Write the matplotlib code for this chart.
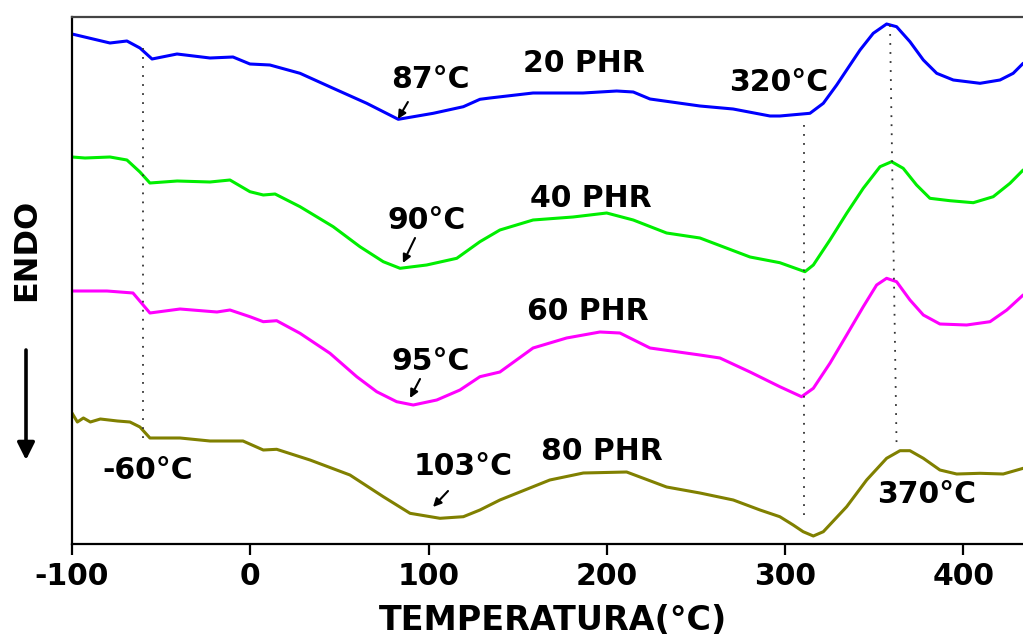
import matplotlib
matplotlib.use("Agg")
import matplotlib.pyplot as plt
from matplotlib.patches import FancyArrowPatch

# DSC thermograms (heat flow, arbitrary units) for four filler loadings
t_20 = [-100, -78.7, -69.2, -61.9, -55.1, -41.1, -22.6, -9.7, -0.2, 11, 27.9, 46.5, 65.3,
        83, 102.6, 119.5, 128.8, 134.4, 158.6, 186.6, 205.5, 214.8, 224.2, 252.2, 270.8,
        291.5, 297, 313.9, 321.4, 328.9, 334.5, 342, 349.4, 356.9, 362.5, 370, 377.5,
        385, 394.3, 409.3, 420.5, 427.9, 433.5]
hf_20 = [510, 501, 503, 496, 485, 490, 486, 487, 480, 479, 470.7, 455.7, 440.7,
         424.7, 430.7, 437.3, 444.7, 446, 451, 451, 453, 452, 445, 438, 435,
         428, 428, 430.7, 440.7, 459, 474, 494, 510.7, 520, 517.3, 502.3, 484,
         470.7, 464, 460.7, 464, 470.7, 480.7]

t_40 = [-100, -92.7, -78.7, -69.2, -61.9, -56.3, -41, -22.6, -11.4, -0.2, 7.3, 13.9, 27.9,
        46.5, 61.5, 74.6, 84, 98.9, 115.8, 128.8, 140, 158.6, 181, 199.9, 214.8, 233.5,
        252.2, 280.3, 297, 311.1, 315.8, 325.1, 334.5, 343.8, 353.2, 359.7, 366.2, 373.7,
        381.2, 392.4, 405.5, 416.7, 426.1, 433.5]
hf_40 = [387, 386, 387, 384, 372, 361, 363, 362, 364, 352.3, 349, 350, 337.3,
         317.3, 297.3, 282.3, 275.7, 279, 285.7, 302.3, 314, 324, 327, 331, 324, 311,
         306, 287, 281.3, 272.3, 279, 304, 330.7, 355.7, 377.3, 382.3, 375.7, 359,
         345.7, 343.3, 341.3, 347.3, 360.7, 374]

t_60 = [-100, -80.4, -65.8, -56.3, -39.4, -18.7, -11.4, -0.2, 7.3, 14.8, 27.9, 44.7, 59.7,
        70.9, 82.1, 91.4, 104.6, 117.6, 128.8, 140, 158.6, 177.4, 196.1, 207.3, 224.2,
        252.2, 263.4, 280.3, 297, 309.2, 315.8, 325.1, 334.5, 343.8, 351.3, 356.9, 362.5,
        370, 377.5, 386.8, 401.8, 414.9, 424.3, 433.5]
hf_60 = [253, 253, 251, 231, 235, 232, 234, 227.3, 222.3, 223.3, 210.7, 190.7, 167.3,
         152.3, 142.3, 139, 144, 154, 167.3, 172, 196, 206, 212, 211, 196,
         189, 186, 172, 157.3, 147.3, 155.7, 180.7, 209, 237.3, 259, 265.7, 262.3,
         244, 229, 220, 219, 222.3, 234, 249]

t_80 = [-100, -97, -93.6, -89.7, -84.1, -74.5, -67.5, -61.9, -56.3, -39.4, -22.6, -4.1,
        7.3, 14.8, 33.5, 55.9, 74.6, 89.6, 106.4, 119.5, 128.8, 140, 168, 186.8, 211.1,
        233.5, 252.2, 270.9, 285.9, 297, 304.5, 310.1, 315.8, 321.4, 334.5, 345.7, 356.9,
        364.4, 370, 377.5, 386.8, 396.2, 409.3, 422.3, 433.5]
hf_80 = [131, 122, 126, 122, 125, 123, 122, 117, 106, 106, 103, 103,
         94, 94.7, 84, 69, 47.3, 30.7, 25.7, 27.3, 34, 44, 64, 71, 72,
         57, 51, 44, 34, 27.3, 19, 12.3, 8, 12.3, 37.3, 64, 85.7,
         93.3, 93.3, 85.7, 74, 70, 70.7, 70, 75.7]

series = [
    (t_20, hf_20, "#0000ff"),
    (t_40, hf_40, "#00ee00"),
    (t_60, hf_60, "#ff00ff"),
    (t_80, hf_80, "#808000"),
]

# curve labels: (text, x, baseline y)
labels = [
    ("20 PHR", 187.2, 472), ("87°C", 100.8, 455.5), ("320°C", 296.5, 453),
    ("40 PHR", 191.1, 337), ("90°C", 99.1, 315),
    ("60 PHR", 189.4, 224), ("95°C", 101.3, 174),
    ("80 PHR", 197.3, 84), ("103°C", 119.3, 69),
    ("-60°C", -57.4, 65), ("370°C", 379.5, 41),
]

# small arrows pointing at the peak minima: (x_from, y_from, x_to, y_to)
peak_arrows = [
    (88.4, 442, 82.8, 425),
    (92.4, 306, 85.6, 281),
    (95.2, 165, 89.6, 146),
    (110.9, 53, 102.5, 37),
]

# dotted guide lines: (x0, y0, x1, y1)
guides = [
    (-60, 496, -60, 102),
    (310.7, 419, 310.7, 26),
    (358.8, 519, 362.5, 97),
]

xticks = [-100, 0, 100, 200, 300, 400]

plt.rcParams["font.family"] = "DejaVu Sans"
plt.rcParams["font.weight"] = "bold"

W, H = 1023, 637
fig = plt.figure(figsize=(W / 100, H / 100), dpi=100)
ax = fig.add_axes([72 / W, 1 - 544 / H, (W - 72) / W, (544 - 17) / H])

for t, hf, c in series:
    ax.plot(t, hf, color=c, lw=2.2, solid_joinstyle="round", solid_capstyle="round")

for x0, y0, x1, y1 in guides:
    ax.plot([x0, x1], [y0, y1], color="#333333", lw=1.3, linestyle=(0, (1, 4)))

for txt, x, y in labels:
    ax.text(x, y, txt, fontsize=21.5, fontweight="bold", ha="center", va="baseline")

for x0, y0, x1, y1 in peak_arrows:
    ax.annotate("", xy=(x1, y1), xytext=(x0, y0),
                arrowprops=dict(arrowstyle="-|>", color="k", lw=1.5,
                                mutation_scale=12, shrinkA=0, shrinkB=0))

ax.set_xlim(-100, 433.4)
ax.set_ylim(0, 527)
ax.set_yticks([])
ax.set_xticks(xticks)
ax.set_xticklabels([str(v) for v in xticks], fontsize=21.5, fontweight="bold")
ax.tick_params(axis="x", direction="out", length=8, width=1.6, pad=5)

for side in ("left", "bottom", "top"):
    ax.spines[side].set_linewidth(1.6)
ax.spines["top"].set_color("#444444")
ax.spines["right"].set_visible(False)

ax.set_xlabel("TEMPERATURA(°C)", fontsize=24, fontweight="bold")
ax.xaxis.label.set_va("baseline")
ax.xaxis.set_label_coords((553 - 72) / (W - 72), (544 - 630) / 527)

# y-axis caption and endothermic direction arrow
fig.text(27 / W, 1 - 250 / H, "ENDO", rotation=90, fontsize=23, fontweight="bold",
         ha="center", va="center")
fig.add_artist(FancyArrowPatch(
    (26 / W, 1 - 350 / H), (26 / W, 1 - 460 / H), transform=fig.transFigure,
    arrowstyle="-|>", color="k", lw=2.6, mutation_scale=26, shrinkA=0, shrinkB=0))

fig.savefig("out.png", dpi=100)
